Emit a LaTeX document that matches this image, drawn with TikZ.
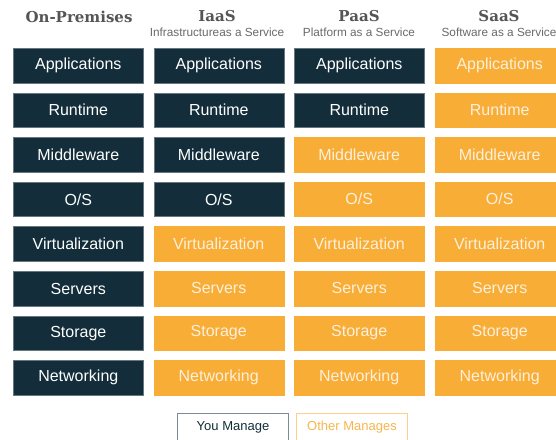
\documentclass[tikz,border=0pt]{standalone}
\usepackage{fontspec}
\setmainfont{Liberation Sans}
\newfontfamily\headfont{DejaVu Serif}
\definecolor{darkbox}{HTML}{132E3A}
\definecolor{orangebox}{HTML}{F8AD36}
\definecolor{orangetext}{HTML}{FDF0DC}
\definecolor{headgray}{HTML}{555555}
\definecolor{subgray}{HTML}{6A6A6A}
\definecolor{legborder}{HTML}{7C8C94}
\definecolor{legorange}{HTML}{FAD08C}
\definecolor{legorangetext}{HTML}{F7B64E}
\tikzset{
  cell/.style={anchor=north west, minimum width=130pt, minimum height=34.5pt, inner sep=0pt, font=\fontsize{16}{16}\selectfont},
  you/.style={cell, fill=darkbox, draw=darkbox!65!white, line width=0.6pt, text=white},
  other/.style={cell, fill=orangebox, draw=orangebox, text=orangetext},
  title/.style={font=\headfont\bfseries\fontsize{15}{15}\selectfont, text=headgray},
  subtitle/.style={font=\fontsize{11.8}{12}\selectfont, text=subgray},
  legend/.style={minimum width=111pt, minimum height=27pt, inner sep=0pt, line width=1pt, font=\fontsize{13}{13}\selectfont, anchor=north west}
}
\begin{document}
\begin{tikzpicture}[x=1pt,y=-1pt]
\clip (0,0) rectangle (556,439);
\fill[white] (0,0) rectangle (556,439);
% headers
\node[title] (t1) at (79,17) {On-Premises};
\node[title] (t2) at (217,16) {IaaS};
\node[subtitle] (s2) at (217,32) {Infrastructureas a Service};
\node[title] (t3) at (359,16) {PaaS};
\node[subtitle] (s3) at (359,32) {Platform as a Service};
\node[title] (t4) at (499,16) {SaaS};
\node[subtitle] (s4) at (499,32) {Software as a Service};
% cells
\foreach \lab [count=\r] in {Applications,Runtime,Middleware,O/S,Virtualization,Servers,Storage,Networking}{
  \pgfmathsetmacro{\yy}{48+(\r-1)*44.6}
  \node[you] (c1-\r) at (13,\yy) {\lab};
  \ifnum\r<5 \node[you] (c2-\r) at (153.5,\yy) {\lab};
  \else \node[other] (c2-\r) at (153.5,\yy) {\lab}; \fi
  \ifnum\r<3 \node[you] (c3-\r) at (294,\yy) {\lab};
  \else \node[other] (c3-\r) at (294,\yy) {\lab}; \fi
  \node[other] (c4-\r) at (434.5,\yy) {\lab};
}
% legend
\node[legend, draw=legborder, text=darkbox] (ly) at (177,413) {You Manage};
\node[legend, draw=legorange, text=legorangetext] (lo) at (296,413) {Other Manages};
\end{tikzpicture}
\end{document}
